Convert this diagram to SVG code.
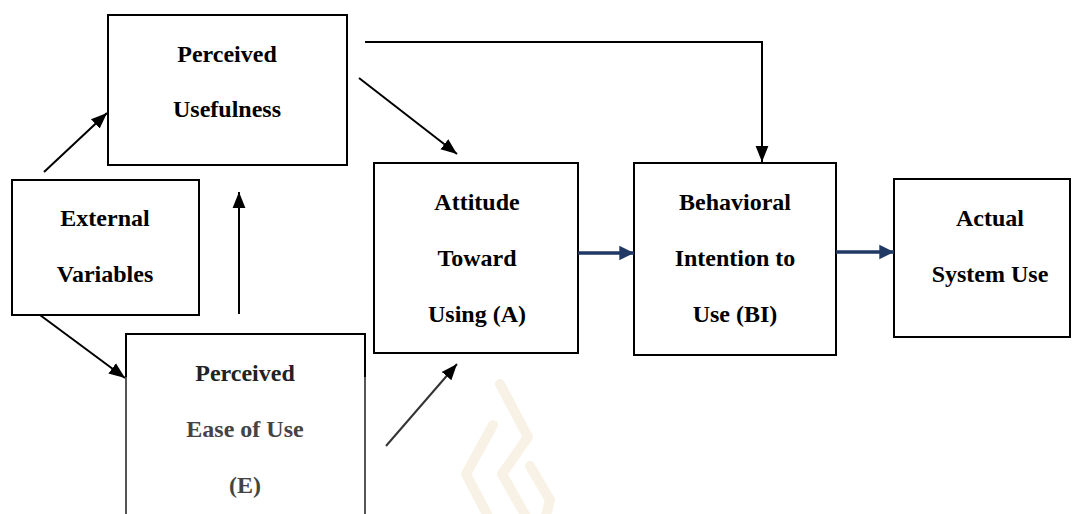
<svg xmlns="http://www.w3.org/2000/svg" width="1073" height="514" viewBox="0 0 1073 514">
<style>
.box{fill:#fff;stroke:#000;stroke-width:2}
.t{font-family:"Liberation Serif","Times New Roman",serif;font-weight:bold;font-size:24px;fill:#000;text-anchor:middle}
.g{fill:#444}
.c{stroke:#000;stroke-width:2;fill:none}
.navy{stroke:#1f3864;stroke-width:3.5;fill:none}
.wm{stroke:#f5ecdc;stroke-width:10;fill:none;stroke-linejoin:round;stroke-linecap:round;opacity:0.7}
</style>
<defs>
<marker id="ah" viewBox="0 0 10 10" refX="10" refY="5" markerWidth="8" markerHeight="8" markerUnits="strokeWidth" orient="auto">
<path d="M0,1 L10,5 L0,9 z" fill="#000"/>
</marker>
<marker id="ahn" viewBox="0 0 10 10" refX="10" refY="5" markerWidth="4.2" markerHeight="4.6" markerUnits="strokeWidth" orient="auto">
<path d="M0,0 L10,5 L0,10 z" fill="#1f3864"/>
</marker>
</defs>
<g id="watermark">
<polyline class="wm" points="500,384 528,437 502,474 528,520"/>
<polyline class="wm" points="493,425 466,474 490,520"/>
<polyline class="wm" points="530,466 550,500 545,520"/>
</g>
<g id="node-pu">
<rect class="box" x="108" y="15" width="239" height="150"/>
<text class="t" x="227" y="62">Perceived</text>
<text class="t" x="227" y="117">Usefulness</text>
</g>
<g id="node-ev">
<rect class="box" x="12" y="180" width="187" height="135"/>
<text class="t" x="105" y="226">External</text>
<text class="t" x="105" y="282">Variables</text>
</g>
<g id="node-peou">
<rect x="126" y="334" width="239" height="200" fill="#fff" stroke="#555" stroke-width="2"/>
<path d="M126,377 V334 H365 V377" fill="none" stroke="#000" stroke-width="2"/>
<text class="t" x="245" y="381" style="fill:#222">Perceived</text>
<text class="t g" x="245" y="437">Ease of Use</text>
<text class="t g" x="245" y="493">(E)</text>
</g>
<g id="node-att">
<rect class="box" x="374" y="163" width="204" height="190"/>
<text class="t" x="477" y="210">Attitude</text>
<text class="t" x="477" y="266">Toward</text>
<text class="t" x="477" y="322">Using (A)</text>
</g>
<g id="node-bi">
<rect class="box" x="634" y="163" width="202" height="192"/>
<text class="t" x="735" y="210">Behavioral</text>
<text class="t" x="735" y="266">Intention to</text>
<text class="t" x="735" y="322">Use (BI)</text>
</g>
<g id="node-asu">
<rect class="box" x="894" y="179" width="176" height="158"/>
<text class="t" x="990" y="226">Actual</text>
<text class="t" x="990" y="282">System Use</text>
</g>
<g id="connectors">
<line class="c" x1="44" y1="172" x2="107" y2="113" marker-end="url(#ah)"/>
<line class="c" x1="40" y1="315" x2="125" y2="378" marker-end="url(#ah)"/>
<line class="c" x1="239" y1="314" x2="239" y2="192" marker-end="url(#ah)"/>
<line class="c" x1="359" y1="78" x2="457" y2="154" marker-end="url(#ah)"/>
<line x1="386" y1="446" x2="457" y2="364" stroke="#333" stroke-width="2" marker-end="url(#ah)"/>
<polyline class="c" points="365,42 762,42 762,162" marker-end="url(#ah)"/>
<line class="navy" x1="578" y1="253" x2="634" y2="253" marker-end="url(#ahn)"/>
<line class="navy" x1="836" y1="252" x2="894" y2="252" marker-end="url(#ahn)"/>
</g>
</svg>
